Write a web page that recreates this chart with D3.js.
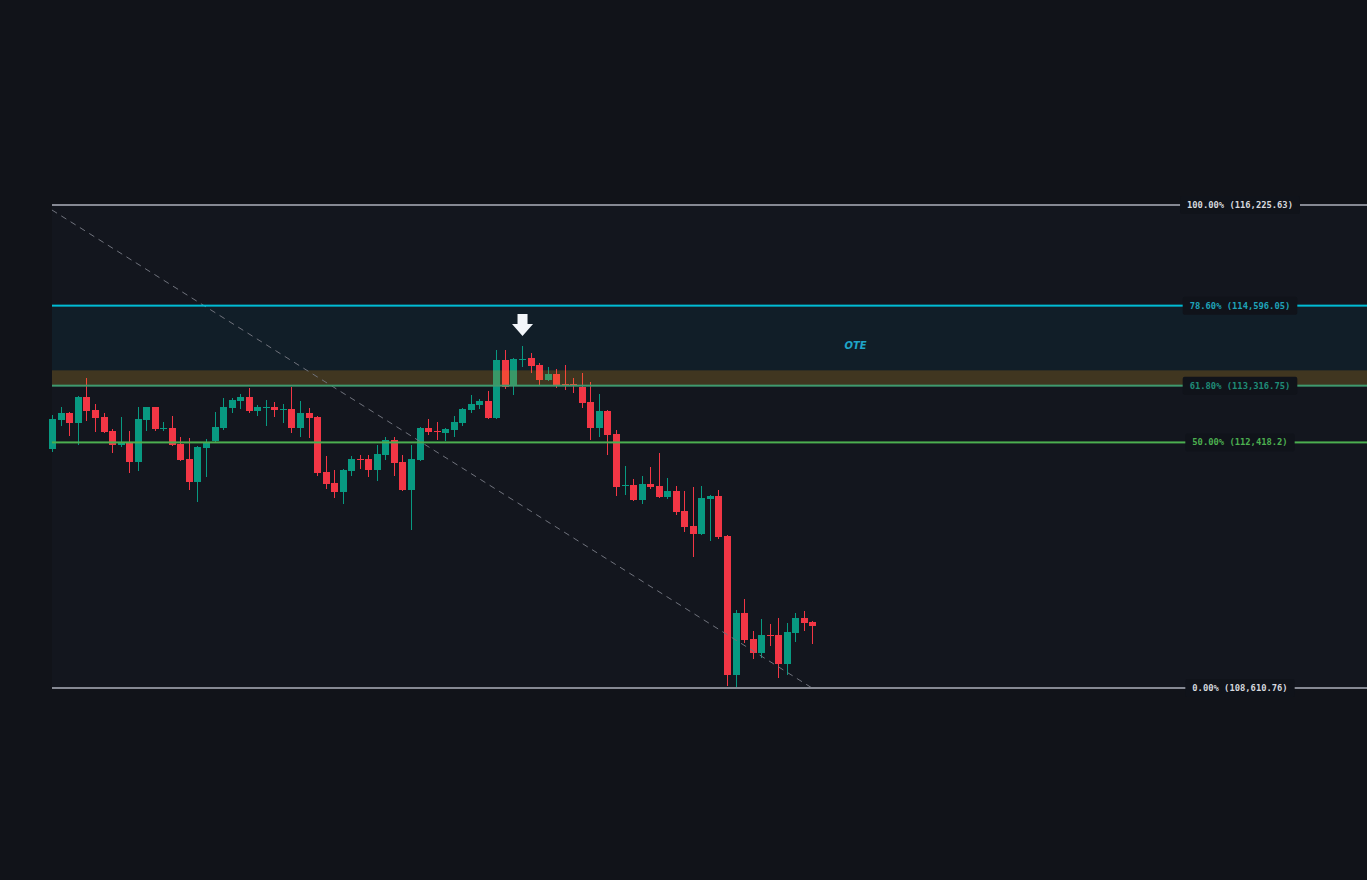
<!DOCTYPE html>
<html><head><meta charset="utf-8">
<script src="https://cdn.jsdelivr.net/npm/d3@7"></script>
<style>
html,body{margin:0;padding:0;background:#111319;overflow:hidden;}
svg{display:block;}
</style></head><body>
<svg id="chart" width="1367" height="880"></svg>
<script>
// ---- data ----
const opens = [112315,112773,112884,112725,113137,112931,112820,112599,112378,112409,
112110,112773,112979,112630,112646,112393,112158,111796,112331,112441,
112646,112963,113074,113137,112915,112971,112979,112939,112947,112646,
112884,112820,111953,111780,111639,111969,112158,112158,111984,112220,
112456,112110,111670,112142,112646,112599,112567,112614,112725,112931,
113010,113074,112804,113726,113327,113734,113758,113646,113407,113503,
113343,113343,113295,113058,112646,112915,112551,111741,111749,111514,
111764,111733,111561,111655,111342,111108,110983,111530,111577,110952,
108810,109760,109360,109146,109422,109422,108978,109452,109683,109622];
const highs = [112852,112979,112899,113153,113439,113026,112884,112630,112820,112599,
112979,112979,112979,112741,112836,112503,112488,112362,112472,112899,
113121,113121,113185,113279,113010,113090,113058,113026,113295,113074,
112963,112836,112205,111984,112000,112205,112220,112220,112378,112503,
112503,112220,112378,112662,112789,112741,112646,112836,112963,113169,
113105,113232,113886,113886,113758,113949,113838,113678,113614,113583,
113646,113439,113519,113375,113185,112931,112614,112047,111843,111890,
112032,112252,111859,111733,111655,111717,111733,111592,111670,110967,
109807,109976,109483,109668,109591,109683,109606,109760,109791,109637];
const lows = [112268,112678,112519,112378,112757,112583,112567,112252,112346,111937,
111969,112599,112599,112599,112362,112126,111670,111483,111874,112425,
112614,112884,112947,112884,112836,112678,112820,112725,112567,112503,
112488,111890,111686,111545,111452,111890,112000,111874,111811,112142,
111890,111655,111046,112126,112535,112456,112441,112503,112678,112884,
112947,112789,112789,113264,113169,113614,113519,113327,113391,113279,
113248,113200,112963,112456,112503,112220,111577,111592,111498,111452,
111686,111545,111530,111280,111014,110626,110967,110874,110905,108641,
108626,109299,109054,109070,109253,108764,108810,109314,109483,109284];
const closes = [112789,112884,112725,113137,112915,112804,112583,112378,112409,112110,
112789,112979,112630,112638,112378,112142,111796,112346,112409,112662,
112979,113090,113137,112915,112979,112979,112931,112947,112646,112884,
112804,111937,111764,111639,111984,112158,112150,111984,112236,112456,
112095,111670,112158,112646,112583,112591,112630,112741,112947,113026,
113074,112804,113726,113295,113742,113742,113630,113407,113503,113327,
113335,113335,113042,112646,112915,112535,111717,111749,111514,111764,
111717,111561,111655,111327,111092,110983,111545,111577,110936,108810,
109760,109345,109146,109422,109414,108978,109468,109683,109606,109560];

const fibHigh = 116225.63, fibLow = 108610.76;
const fibRatios = [1, 0.786, 0.618, 0.5, 0];
const fibLabels = ["100.00% (116,225.63)","78.60% (114,596.05)","61.80% (113,316.75)","50.00% (112,418.2)","0.00% (108,610.76)"];
const fibLineColors = ["#868993","#00bcd4","#3f9a6e","#4caf50","#868993"];
const fibTextColors = ["#d6d8de","#1fa3b9","#1f8c78","#4caf50","#d6d8de"];
const oteRatios = [0.786, 0.618];
const pocketRatios = [0.65, 0.618];
const trendIdx = [-0.1, 88.9];
const trendPrice = [116144, 108610.76];
const markerIndex = 55;
const oteLabel = "OTE";
const oteLabelIndex = 94;

// ---- scales ----
const W = 1367, H = 880;
const plotLeft = 52;
const x = d3.scaleLinear().domain([0, 89]).range([52.8, 812.9]);
const y = d3.scaleLog().domain([fibLow, fibHigh]).range([688, 205]);
const lvl = r => fibLow + r * (fibHigh - fibLow);

const svg = d3.select("#chart");
svg.append("rect").attr("width", W).attr("height", H).attr("fill", "#111319");

// fib background
svg.append("rect").attr("x", plotLeft).attr("y", y(fibHigh)).attr("width", W - plotLeft)
  .attr("height", y(fibLow) - y(fibHigh)).attr("fill", "#13161e");

// OTE zone
svg.append("rect").attr("x", plotLeft).attr("y", y(lvl(oteRatios[0])))
  .attr("width", W - plotLeft).attr("height", y(lvl(oteRatios[1])) - y(lvl(oteRatios[0])))
  .attr("fill", "rgba(0,188,212,0.055)");

// candles
const idx = d3.range(opens.length);
const up = "#089981", down = "#f23645";
const cg = svg.append("g");
idx.forEach(i => {
  const o = opens[i], c = closes[i], h = highs[i], l = lows[i];
  const col = c >= o ? up : down;
  const left = Math.round(x(i) - 3.5);
  const yh = Math.round(y(h)), yl = Math.round(y(l));
  const yt = Math.round(y(Math.max(o, c))), yb = Math.round(y(Math.min(o, c)));
  cg.append("rect").attr("x", left + 3).attr("y", yh).attr("width", 1)
    .attr("height", Math.max(1, yl - yh)).attr("fill", col);
  cg.append("rect").attr("x", left).attr("y", yt).attr("width", 7)
    .attr("height", Math.max(1, yb - yt)).attr("fill", col);
});

// golden pocket band (overlay)
svg.append("rect").attr("x", plotLeft).attr("y", y(lvl(pocketRatios[0])))
  .attr("width", W - plotLeft).attr("height", y(lvl(pocketRatios[1])) - y(lvl(pocketRatios[0])))
  .attr("fill", "rgba(255,148,0,0.2)");

// trend line
svg.append("line")
  .attr("x1", x(trendIdx[0])).attr("y1", y(trendPrice[0]))
  .attr("x2", x(trendIdx[1])).attr("y2", y(trendPrice[1]))
  .attr("stroke", "#6f727c").attr("stroke-width", 1).attr("stroke-dasharray", "6 5");

// fib lines
fibRatios.forEach((r, k) => {
  const yy = y(lvl(r));
  svg.append("rect").attr("x", plotLeft).attr("y", yy - 1).attr("width", W - plotLeft)
    .attr("height", 2).attr("fill", fibLineColors[k]);
});

// labels
const labelX = 1240;
fibRatios.forEach((r, k) => {
  const yy = y(lvl(r));
  const g = svg.append("g");
  const box = g.append("rect");
  const t = g.append("text").attr("x", labelX).attr("y", yy)
    .attr("text-anchor", "middle").attr("dominant-baseline", "central")
    .attr("font-family", "'DejaVu Sans Mono', monospace").attr("font-size", 8.8)
    .attr("font-weight", "bold")
    .attr("fill", fibTextColors[k]).text(fibLabels[k]);
  const w = t.node().getComputedTextLength();
  box.attr("x", labelX - w / 2 - 7).attr("y", yy - 9).attr("width", w + 14).attr("height", 18)
    .attr("rx", 2).attr("fill", "#10131a");
});

// arrow marker above the swing high
const ax = x(markerIndex), tip = y(highs[markerIndex]) - 10;
svg.append("path")
  .attr("d", `M${ax-5},${tip-22}L${ax+5},${tip-22}L${ax+5},${tip-12}L${ax+10.5},${tip-12}L${ax},${tip}L${ax-10.5},${tip-12}L${ax-5},${tip-12}Z`)
  .attr("fill", "#f2f6fa");

// OTE label
svg.append("text").attr("x", x(oteLabelIndex))
  .attr("y", (y(lvl(oteRatios[0])) + y(lvl(oteRatios[1]))) / 2)
  .attr("text-anchor", "middle").attr("dominant-baseline", "central")
  .attr("font-family", "'DejaVu Sans', sans-serif").attr("font-size", 10)
  .attr("font-weight", "bold").attr("font-style", "italic")
  .attr("fill", "#1fa5c8").text(oteLabel);
</script>
</body></html>
